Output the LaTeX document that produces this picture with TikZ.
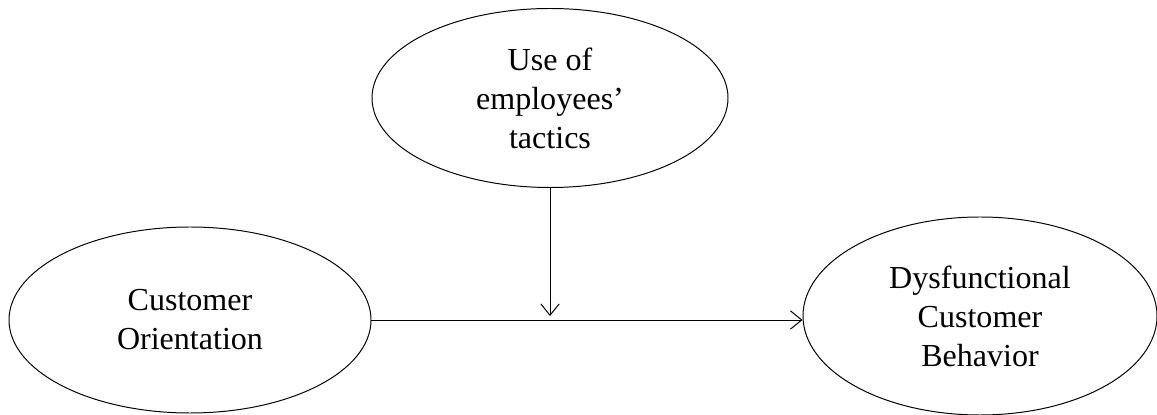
\documentclass[tikz,border=0pt]{standalone}
\usepackage{fontspec}
\setmainfont{Liberation Serif}
\usetikzlibrary{shapes.geometric,arrows.meta,calc}

\tikzset{
  construct/.style={ellipse, draw, line width=0.7pt, inner sep=0pt, align=center,
    font=\fontsize{22.8}{27.7}\selectfont},
  link/.style={line width=0.7pt, -{Straight Barb[length=8pt,width=13pt,line width=0.7pt]}}
}

\begin{document}
\begin{tikzpicture}
            \useasboundingbox (0,0) rectangle (28.925,-10.375);
            % Constructs
            \node[construct, minimum width=8.9cm, minimum height=4.475cm] (tactics) at (13.75,-2.45) {Use of\\employees'\\tactics};
            \node[construct, minimum width=9.05cm, minimum height=4.65cm] (orient) at (4.75,-8.0) {Customer\\Orientation};
            \node[construct, minimum width=8.85cm, minimum height=4.95cm] (dysf) at (24.5,-7.9) {Dysfunctional\\Customer\\Behavior};
            % Main path
            \draw[link] (orient.east) -- (orient.east -| dysf.west);
            % Moderation
            \coordinate (meet) at ($(tactics.south |- orient.east)+(0,0.1)$);
            \draw[link] (tactics.south) -- (meet);
\end{tikzpicture}
\end{document}
